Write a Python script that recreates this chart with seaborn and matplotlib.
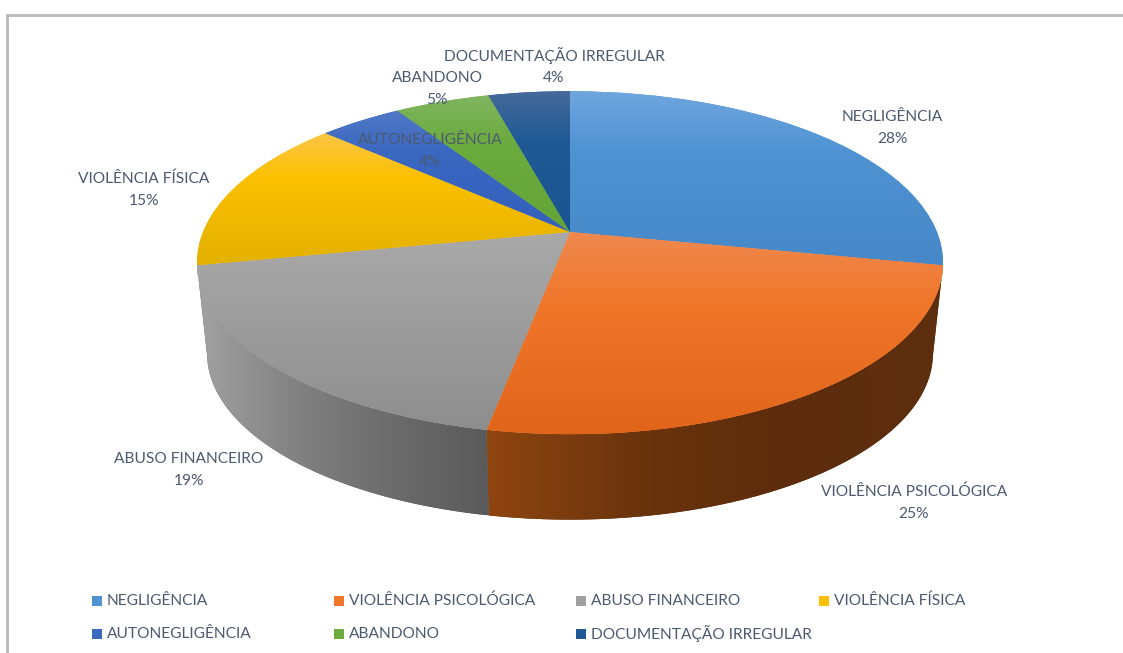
import numpy as np
import pandas as pd
import seaborn as sns
import matplotlib
matplotlib.use("Agg")
import matplotlib.pyplot as plt
from matplotlib.colors import to_rgb
from matplotlib.patches import Polygon, Rectangle
from matplotlib.transforms import Transform

categories = ["NEGLIGÊNCIA", "VIOLÊNCIA PSICOLÓGICA", "ABUSO FINANCEIRO", "VIOLÊNCIA FÍSICA",
              "AUTONEGLIGÊNCIA", "ABANDONO", "DOCUMENTAÇÃO IRREGULAR"]
values = [28.1, 24.9, 18.9, 14.7, 4.3, 4.9, 4.2]
base_colors = ["#4f93d3", "#f0762a", "#a0a0a0", "#fbc000", "#3a67c0", "#6cab3d", "#1f5a96"]
light_colors = ["#70a6de", "#ef8a50", "#a9a9a9", "#fcc648", "#5079c6", "#80b560", "#46699a"]
dark_colors = ["#4688c8", "#e0651a", "#8e8e8e", "#e3b100", "#3360bc", "#64a437", "#1a5490"]
wall_stops = {1: ["#8f4510", "#6a340d", "#5c2c0c", "#5e2f0e"], 2: ["#a2a2a2", "#828282", "#6c6c6c", "#5a5a5a"]}
label_pos = [(892, 117), (914, 492), (189, 459), (144, 179), (430, 140), (437, 78), (554, 56)]
legend_pos = [(92, 601), (334, 601), (576, 601), (819, 601), (92, 634), (334, 634), (576, 634)]

W, H = 1123, 653
CX, TILT = 570, 0.179
TOP = dict(cy=232, rx=367, ry=166)
BOT = dict(cy=324, rx=357, ry=160.6)
TXT = "#4b5a70"
FS = 11.15

sns.set_theme(style="white")
plt.rcParams["font.family"] = ["Lato", "DejaVu Sans"]
df = pd.DataFrame({"categoria": categories, "valor": values})
palette = sns.color_palette(base_colors)


def project(u, v, cy, rx, ry):
    d = 1 + TILT * v
    return CX + rx * u / d, cy - ry * v / d


class Tilt(Transform):
    input_dims = output_dims = 2

    def transform_non_affine(self, pts):
        pts = np.asarray(pts, float)
        x, y = project(pts[:, 0], pts[:, 1], **TOP)
        return np.column_stack([x, y])


fig = plt.figure(figsize=(W / 100, H / 100), dpi=100, facecolor="white")
ax = fig.add_axes([0, 0, 1, 1])
wedges, _ = ax.pie(df["valor"], startangle=90, counterclock=False, radius=1, colors=palette)
ax.set_aspect("auto")


def limits():
    ax.set_xlim(0, W)
    ax.set_ylim(H, 0)


def to_array(stops):
    return np.array([to_rgb(c) for c in stops])


# side walls of the two front slices
vis_lo = np.degrees(np.arccos(-TILT))
vis_hi = 360 - vis_lo
ends = np.cumsum(df["valor"].to_numpy()) * 3.6
starts = np.r_[0, ends[:-1]]
for i, stops in wall_stops.items():
    a0, a1 = max(starts[i], vis_lo), min(ends[i], vis_hi)
    t = np.radians(np.linspace(a0, a1, 200))
    u, v = np.sin(t), np.cos(t)
    xt, yt = project(u, v, **TOP)
    xb, yb = project(u, v, **BOT)
    pts = np.r_[np.column_stack([xt, yt]), np.column_stack([xb, yb])[::-1]]
    poly = Polygon(pts, closed=True, fc=stops[-1], ec="none", zorder=1)
    ax.add_patch(poly)
    xs = np.linspace(pts[:, 0].min(), pts[:, 0].max(), 256)
    rgb = to_array(stops)
    knots = np.linspace(0, 1, len(stops))
    fr = (xs - xs[0]) / (xs[-1] - xs[0])
    img = np.stack([np.interp(fr, knots, rgb[:, c]) for c in range(3)], -1)[None, ...]
    im = ax.imshow(img, extent=(xs[0], xs[-1], pts[:, 1].max(), pts[:, 1].min()), aspect="auto", zorder=1.1)
    im.set_clip_path(poly)

# top faces: pie wedges through the tilt projection, with a vertical shade
tilt = Tilt()
for i, w in enumerate(wedges):
    w.set_transform(tilt + ax.transData)
    w.set_edgecolor("none")
    w.set_zorder(2)
    t = np.radians(np.linspace(starts[i], ends[i], 100))
    px, py = project(np.r_[0, np.sin(t)], np.r_[0, np.cos(t)], **TOP)
    ys = np.linspace(0, 1, 256)
    rgb = to_array([light_colors[i], base_colors[i], dark_colors[i]])
    img = np.stack([np.interp(ys, [0, 0.35, 1], rgb[:, c]) for c in range(3)], -1)[:, None, :]
    im = ax.imshow(img, extent=(px.min(), px.max(), py.max(), py.min()), aspect="auto", zorder=2.1)
    im.set_clip_path(w)

limits()

for name, val, (x, y) in zip(df["categoria"], df["valor"], label_pos):
    ax.text(x, y, name, ha="center", va="center", fontsize=FS, color=TXT, zorder=5)
    ax.text(x, y + 22, f"{round(val)}%", ha="center", va="center", fontsize=FS, color=TXT, zorder=5)

for name, col, (x, y) in zip(df["categoria"], palette, legend_pos):
    ax.add_patch(Rectangle((x, y - 5), 10, 10, fc=col, ec="none", zorder=5))
    ax.text(x + 15, y, name, ha="left", va="center", fontsize=FS, color=TXT, zorder=5)

ax.plot([7, 7, W], [H, 15, 15], color="#b8b8b8", lw=2, zorder=6, solid_joinstyle="miter")
ax.axis("off")
limits()
fig.savefig("out.png", dpi=100, facecolor="white")
